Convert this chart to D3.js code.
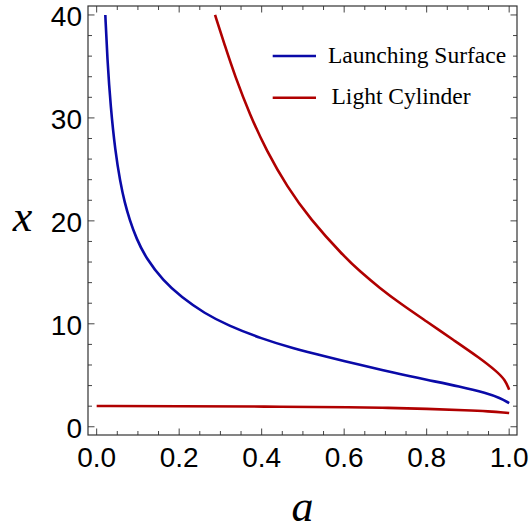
<!DOCTYPE html>
<html>
<head>
<meta charset="utf-8">
<script src="https://cdn.jsdelivr.net/npm/d3@7"></script>
<style>
  body { margin: 0; background: #fff; }
  svg { display: block; }
</style>
</head>
<body>
<svg id="chart" width="530" height="527"></svg>
<script>
// ----- data (a, x) -----
const launchingSurface = [
  [0.021, 40], [0.0257, 35.8], [0.034, 31.0], [0.045, 26.8], [0.057, 23.8],
  [0.068, 21.75], [0.080, 20.1], [0.096, 18.3], [0.120, 16.35], [0.161, 14.2],
  [0.205, 12.6], [0.262, 11.0], [0.318, 9.85], [0.400, 8.55], [0.477, 7.6],
  [0.558, 6.8], [0.638, 6.02], [0.719, 5.25], [0.800, 4.56], [0.881, 3.91],
  [0.945, 3.27], [0.978, 2.79], [1.000, 2.3]
];
const lightCylinderOuter = [
  [0.287, 40.0], [0.311, 37.0], [0.335, 34.1], [0.372, 30.25], [0.412, 26.8],
  [0.461, 23.35], [0.517, 20.2], [0.598, 16.6], [0.638, 15.1], [0.687, 13.45],
  [0.735, 12.0], [0.800, 10.22], [0.864, 8.45], [0.929, 6.67], [0.970, 5.37],
  [0.990, 4.56], [1.000, 3.6]
];
const lightCylinderInner = [
  [0.0, 2.02], [0.2, 2.0], [0.4, 1.97], [0.638, 1.88], [0.7, 1.84],
  [0.8, 1.74], [0.9, 1.6], [0.95, 1.5], [0.99, 1.38], [1.0, 1.33]
];

const xTicks = [0, 0.2, 0.4, 0.6, 0.8, 1.0];
const yTicks = [0, 10, 20, 30, 40];
const legendLabels = ['Launching Surface', 'Light Cylinder'];

const BLUE = '#0a0aa8';
const RED = '#b00000';

// ----- frame -----
const frame = { left: 88, top: 6, right: 517, bottom: 435 };
const svg = d3.select('#chart');

const x = d3.scaleLinear().domain([-0.021, 1.019]).range([frame.left, frame.right]);
const y = d3.scaleLinear().domain([-0.8, 40.87]).range([frame.bottom, frame.top]);

// minor ticks
const xMinor = d3.range(0, 1.0001, 0.05).filter(v => !xTicks.some(t => Math.abs(t - v) < 1e-6));
const yMinor = d3.range(0, 40.001, 2).filter(v => !yTicks.some(t => Math.abs(t - v) < 1e-6));

const tickColor = '#444';
const g = svg.append('g');

// ticks on all four sides, pointing inward
function hTicks(vals, len) {
  vals.forEach(v => {
    g.append('line').attr('x1', x(v)).attr('x2', x(v))
      .attr('y1', frame.bottom).attr('y2', frame.bottom - len)
      .attr('stroke', tickColor).attr('stroke-width', 1);
    g.append('line').attr('x1', x(v)).attr('x2', x(v))
      .attr('y1', frame.top).attr('y2', frame.top + len)
      .attr('stroke', tickColor).attr('stroke-width', 1);
  });
}
function vTicks(vals, len) {
  vals.forEach(v => {
    g.append('line').attr('y1', y(v)).attr('y2', y(v))
      .attr('x1', frame.left).attr('x2', frame.left + len)
      .attr('stroke', tickColor).attr('stroke-width', 1);
    g.append('line').attr('y1', y(v)).attr('y2', y(v))
      .attr('x1', frame.right).attr('x2', frame.right - len)
      .attr('stroke', tickColor).attr('stroke-width', 1);
  });
}
hTicks(xTicks, 6.5);
hTicks(xMinor, 4);
vTicks(yTicks, 6.5);
vTicks(yMinor, 4);

// frame box
g.append('rect')
  .attr('x', frame.left).attr('y', frame.top)
  .attr('width', frame.right - frame.left).attr('height', frame.bottom - frame.top)
  .attr('fill', 'none').attr('stroke', '#333').attr('stroke-width', 1.2);

// tick labels
const tickFont = 'Liberation Sans, Arial, sans-serif';
svg.append('g').selectAll('text').data(xTicks).join('text')
  .attr('x', d => x(d)).attr('y', 467)
  .attr('text-anchor', 'middle')
  .attr('font-family', tickFont).attr('font-size', 28)
  .text(d => d.toFixed(1));

svg.append('g').selectAll('text').data(yTicks).join('text')
  .attr('x', 82).attr('y', d => y(d) + 11)
  .attr('text-anchor', 'end')
  .attr('font-family', tickFont).attr('font-size', 28)
  .text(d => d);

// axis labels
const serif = 'Liberation Serif, Times New Roman, serif';
svg.append('text')
  .attr('x', 302.5).attr('y', 520.5)
  .attr('text-anchor', 'middle')
  .attr('font-family', serif).attr('font-style', 'italic').attr('font-size', 44)
  .text('a');
svg.append('text')
  .attr('x', 22.5).attr('y', 231)
  .attr('text-anchor', 'middle')
  .attr('font-family', serif).attr('font-style', 'italic').attr('font-size', 44)
  .text('x');

// curves (basis smooths out small reading errors)
const line = d3.line()
  .x(d => x(d[0]))
  .y(d => y(d[1]))
  .curve(d3.curveBasis);

const curves = [
  { data: launchingSurface, color: BLUE },
  { data: lightCylinderOuter, color: RED },
  { data: lightCylinderInner, color: RED }
];
svg.append('g').selectAll('path').data(curves).join('path')
  .attr('d', d => line(d.data))
  .attr('fill', 'none')
  .attr('stroke', d => d.color)
  .attr('stroke-width', 2.6);

// legend
const legend = [
  { label: legendLabels[0], color: BLUE, y: 56, tx: 328, ty: 63 },
  { label: legendLabels[1], color: RED, y: 97.7, tx: 331.5, ty: 103.5 }
];
const lg = svg.append('g');
legend.forEach(item => {
  lg.append('line')
    .attr('x1', 272.7).attr('x2', 316)
    .attr('y1', item.y).attr('y2', item.y)
    .attr('stroke', item.color).attr('stroke-width', 2.6);
  lg.append('text')
    .attr('x', item.tx).attr('y', item.ty)
    .attr('font-family', serif).attr('font-size', 23.5)
    .text(item.label);
});
</script>
</body>
</html>
